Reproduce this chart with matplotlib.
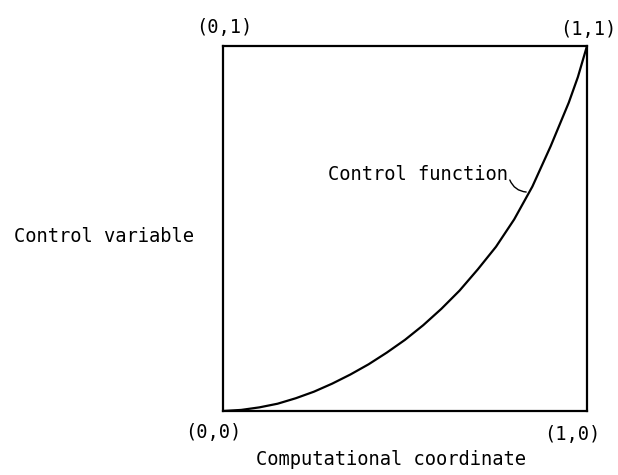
import matplotlib
matplotlib.use("Agg")
import matplotlib.pyplot as plt

# Control function sampled along the computational coordinate
comp_coord = [0.0, 0.05, 0.1, 0.15, 0.2, 0.25, 0.3, 0.35, 0.4, 0.45, 0.5,
              0.55, 0.6, 0.65, 0.7, 0.75, 0.8, 0.85, 0.9, 0.95, 0.975, 1.0]
control_var = [0.0, 0.003, 0.01, 0.02, 0.035, 0.053, 0.075, 0.1, 0.128, 0.16, 0.195,
               0.235, 0.28, 0.33, 0.388, 0.45, 0.525, 0.615, 0.725, 0.845, 0.915, 1.0]

corner_labels = ["(0,0)", "(1,0)", "(0,1)", "(1,1)"]
x_label = "Computational coordinate"
y_label = "Control variable"
curve_label = "Control function"

FONT = "DejaVu Sans Mono"
FS = 13.5

fig = plt.figure(figsize=(6.18, 4.75), dpi=100)
ax = fig.add_axes([0.3608, 0.1347, 0.589, 0.7684])
ax.set_xlim(0, 1)
ax.set_ylim(0, 1)
ax.set_xticks([])
ax.set_yticks([])
for sp in ax.spines.values():
    sp.set_linewidth(1.6)
    sp.set_color("black")

ax.plot(comp_coord, control_var, color="black", lw=1.6,
        solid_capstyle="round", solid_joinstyle="round")

kw = dict(fontsize=FS, family=FONT, color="black", clip_on=False)
ax.text(-0.027, -0.058, corner_labels[0], ha="center", va="center", **kw)
ax.text(0.959, -0.063, corner_labels[1], ha="center", va="center", **kw)
ax.text(0.003, 1.052, corner_labels[2], ha="center", va="center", **kw)
ax.text(1.003, 1.044, corner_labels[3], ha="center", va="center", **kw)
ax.text(0.462, -0.132, x_label, ha="center", va="center", **kw)
ax.text(-0.327, 0.477, y_label, ha="center", va="center", **kw)
ax.text(0.783, 0.647, curve_label, ha="right", va="center", **kw)

# Leader from the label to the curve
ax.annotate("", xy=(0.833, 0.6), xytext=(0.788, 0.633),
            arrowprops=dict(arrowstyle="-", color="black", lw=1.0,
                            connectionstyle="arc3,rad=0.3",
                            shrinkA=0, shrinkB=0),
            annotation_clip=False)

fig.savefig("out.png", dpi=100)
